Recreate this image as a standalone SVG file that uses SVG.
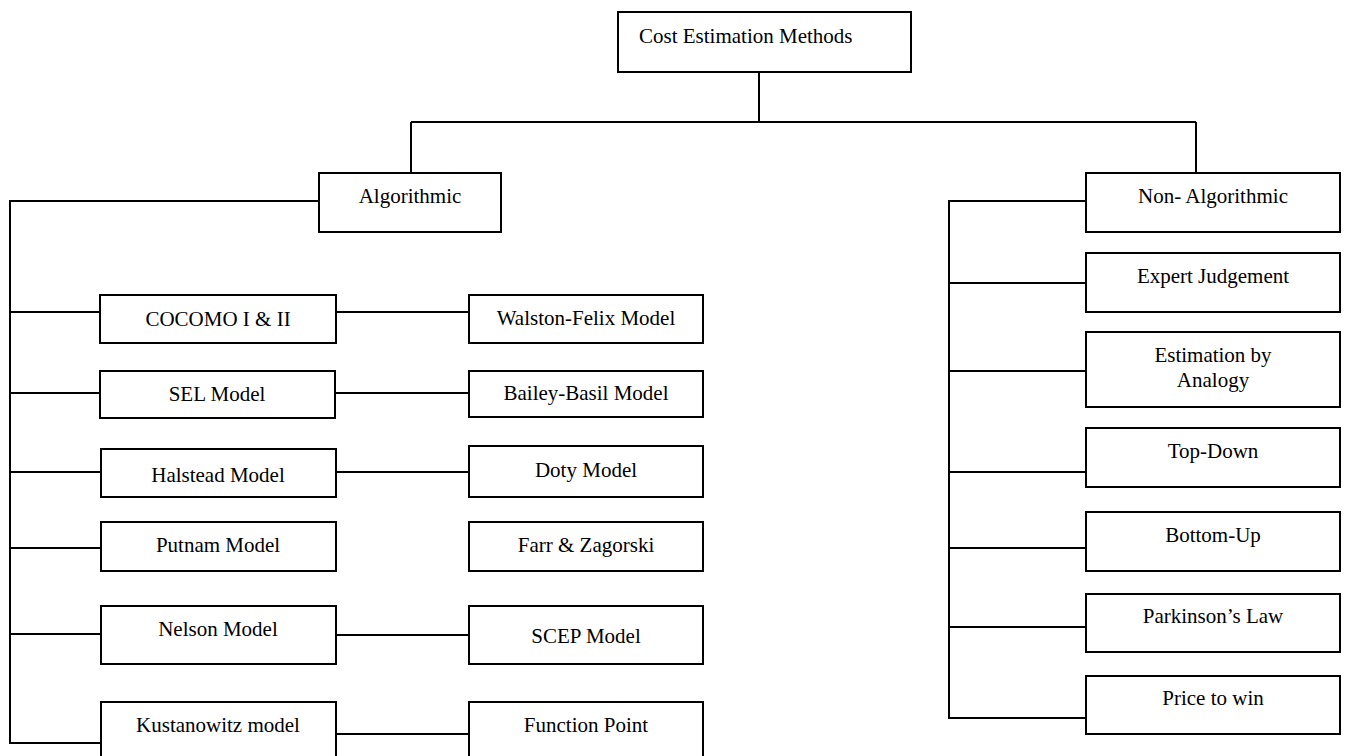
<svg xmlns="http://www.w3.org/2000/svg" width="1345" height="756" viewBox="0 0 1345 756">
<style>
rect.box{fill:#fff;stroke:#000;stroke-width:2}
.conn path{fill:none;stroke:#000;stroke-width:2}
text{font-family:"Liberation Serif","Times New Roman",serif;font-size:21px;fill:#000}
.c{text-anchor:middle}
</style>
<rect width="1345" height="756" fill="#fff"/>
<g class="conn" id="connectors">
<path d="M759 72V122M411 122H1196M411 122V173M1196 122V173"/>
<path d="M319 201H10V743H101M10 312H100M10 393H100M10 472H101M10 548H101M10 634H101"/>
<path d="M336 312H469M335 393H469M336 472H469M336 635H469M336 734H469"/>
<path d="M1086 201H949V718H1086M949 283H1086M949 371H1086M949 472H1086M949 548H1086M949 627H1086"/>
</g>
<g id="root"><rect class="box" x="618" y="12" width="293" height="60"/><text x="639" y="43">Cost Estimation Methods</text></g>
<g id="algorithmic"><rect class="box" x="319" y="173" width="182" height="59"/><text class="c" x="410" y="203">Algorithmic</text></g>
<g id="nonalgorithmic"><rect class="box" x="1086" y="173" width="254" height="59"/><text class="c" x="1213" y="203">Non- Algorithmic</text></g>
<g id="cocomo"><rect class="box" x="100" y="295" width="236" height="48"/><text class="c" x="218" y="326">COCOMO I &amp; II</text></g>
<g id="walston"><rect class="box" x="469" y="295" width="234" height="48"/><text class="c" x="586" y="325">Walston-Felix Model</text></g>
<g id="sel"><rect class="box" x="100" y="371" width="235" height="47"/><text class="c" x="217" y="401">SEL Model</text></g>
<g id="bailey"><rect class="box" x="469" y="371" width="234" height="46"/><text class="c" x="586" y="400">Bailey-Basil Model</text></g>
<g id="halstead"><rect class="box" x="101" y="449" width="235" height="48"/><text class="c" x="218" y="482">Halstead Model</text></g>
<g id="doty"><rect class="box" x="469" y="446" width="234" height="51"/><text class="c" x="586" y="477">Doty Model</text></g>
<g id="putnam"><rect class="box" x="101" y="522" width="235" height="49"/><text class="c" x="218" y="552">Putnam Model</text></g>
<g id="farr"><rect class="box" x="469" y="522" width="234" height="49"/><text class="c" x="586" y="552">Farr &amp; Zagorski</text></g>
<g id="nelson"><rect class="box" x="101" y="606" width="235" height="58"/><text class="c" x="218" y="636">Nelson Model</text></g>
<g id="scep"><rect class="box" x="469" y="606" width="234" height="58"/><text class="c" x="586" y="643">SCEP Model</text></g>
<g id="kustanowitz"><rect class="box" x="101" y="702" width="235" height="60"/><text class="c" x="218" y="732">Kustanowitz model</text></g>
<g id="functionpoint"><rect class="box" x="469" y="702" width="234" height="60"/><text class="c" x="586" y="732">Function Point</text></g>
<g id="expert"><rect class="box" x="1086" y="253" width="254" height="59"/><text class="c" x="1213" y="283">Expert Judgement</text></g>
<g id="analogy"><rect class="box" x="1086" y="332" width="254" height="75"/><text class="c" x="1213" y="362">Estimation by</text><text class="c" x="1213" y="387">Analogy</text></g>
<g id="topdown"><rect class="box" x="1086" y="428" width="254" height="59"/><text class="c" x="1213" y="458">Top-Down</text></g>
<g id="bottomup"><rect class="box" x="1086" y="512" width="254" height="59"/><text class="c" x="1213" y="542">Bottom-Up</text></g>
<g id="parkinson"><rect class="box" x="1086" y="594" width="254" height="58"/><text class="c" x="1213" y="623">Parkinson’s Law</text></g>
<g id="price"><rect class="box" x="1086" y="676" width="254" height="58"/><text class="c" x="1213" y="705">Price to win</text></g>
</svg>
